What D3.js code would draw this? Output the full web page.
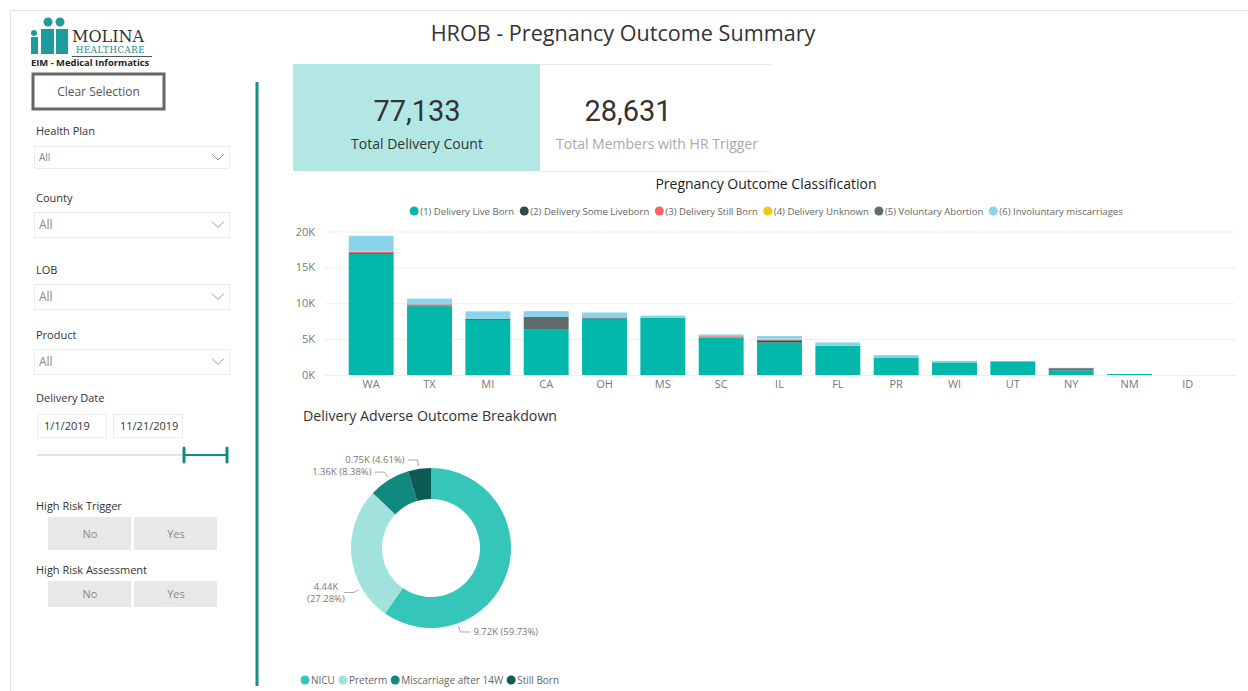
<!DOCTYPE html>
<html>
<head>
<meta charset="utf-8">
<script src="https://cdn.jsdelivr.net/npm/d3@7"></script>
<style>
  body { margin: 0; background: #fff; font-family: "Open Sans", "Noto Sans", sans-serif; }
  svg text { font-family: "Open Sans", "Noto Sans", sans-serif; }
</style>
</head>
<body>
<div id="chart"></div>
<script>
// Bar chart data (deliveries by state)
const states = ["WA", "TX", "MI", "CA", "OH", "MS", "SC", "IL", "FL", "PR", "WI", "UT", "NY", "NM", "ID"];
const seriesNames = ["(1) Delivery Live Born", "(2) Delivery Some Liveborn", "(3) Delivery Still Born",
                     "(4) Delivery Unknown", "(5) Voluntary Abortion", "(6) Involuntary miscarriages"];
const liveBorn      = [16900, 9600, 7700, 6400, 7800, 8000, 5200, 4550, 4070, 2450, 1760, 1900, 650, 140, 0];
const someLiveborn  = [110, 0, 120, 0, 110, 0, 0, 280, 0, 0, 0, 0, 0, 0, 0];
const stillBorn     = [150, 250, 0, 0, 0, 0, 200, 80, 0, 0, 0, 0, 0, 0, 0];
const unknown       = [120, 0, 0, 0, 0, 0, 0, 150, 0, 0, 0, 0, 0, 0, 0];
const volAbortion   = [20, 0, 0, 1700, 0, 0, 0, 0, 0, 0, 0, 0, 300, 0, 0];
const involMisc     = [2100, 800, 1050, 800, 800, 280, 250, 370, 470, 330, 220, 40, 50, 0, 0];
const yTicks = [0, 5000, 10000, 15000, 20000];

// Donut data
const outcomeNames = ["NICU", "Preterm", "Miscarriage after 14W", "Still Born"];
const outcomeValues = [9720, 4440, 1360, 750];
const outcomeLabels = [["9.72K (59.73%)"], ["4.44K", "(27.28%)"], ["1.36K (8.38%)"], ["0.75K (4.61%)"]];

// KPI cards
const kpiValues = ["77,133", "28,631"];
const kpiLabels = ["Total Delivery Count", "Total Members with HR Trigger"];

const barColors = ["#01B8AA", "#374649", "#FD625E", "#F2C80F", "#5F6B6D", "#8AD4EB"];
const donutColors = ["#36C5B9", "#A1E3DC", "#11897F", "#0B5C55"];

const W = 1248, H = 691;
const svg = d3.select("#chart").append("svg").attr("width", W).attr("height", H);

// page frame
svg.append("line").attr("x1", 10).attr("x2", W).attr("y1", 10.5).attr("y2", 10.5).attr("stroke", "#e2e0f3");
svg.append("line").attr("x1", 10.5).attr("x2", 10.5).attr("y1", 10).attr("y2", H).attr("stroke", "#e2e0f3");

// ---------- Logo ----------
const logo = svg.append("g");
const teal = "#1E9C9C";
logo.append("circle").attr("cx", 34).attr("cy", 33).attr("r", 3).attr("fill", teal);
logo.append("circle").attr("cx", 48).attr("cy", 22).attr("r", 4.5).attr("fill", teal);
logo.append("circle").attr("cx", 60).attr("cy", 22).attr("r", 4.5).attr("fill", teal);
logo.append("rect").attr("x", 31).attr("y", 37).attr("width", 7).attr("height", 17).attr("fill", teal);
logo.append("rect").attr("x", 41).attr("y", 29).attr("width", 13).attr("height", 25).attr("fill", teal);
logo.append("rect").attr("x", 56).attr("y", 29).attr("width", 12).attr("height", 25).attr("fill", teal);
logo.append("text").attr("x", 72).attr("y", 42).style("font-family", "'DejaVu Serif', serif")
  .style("font-size", "16px").attr("fill", "#333").text("MOLINA");
logo.append("text").attr("x", 76).attr("y", 53).style("font-family", "'DejaVu Serif', serif")
  .style("font-size", "8.5px").attr("fill", "#1E8585").style("letter-spacing", "0.6px").text("HEALTHCARE");
logo.append("line").attr("x1", 72).attr("x2", 152).attr("y1", 56.5).attr("y2", 56.5).attr("stroke", "#555");
logo.append("text").attr("x", 31).attr("y", 66).style("font-size", "9.4px").style("font-weight", "bold")
  .attr("fill", "#222").text("EIM - Medical Informatics");

// ---------- Left slicer panel ----------
const panel = svg.append("g");
panel.append("rect").attr("x", 33).attr("y", 74).attr("width", 131).attr("height", 35)
  .attr("fill", "#fff").attr("stroke", "#666").attr("stroke-width", 3);
panel.append("text").attr("x", 98.5).attr("y", 96).attr("text-anchor", "middle")
  .style("font-size", "12px").attr("fill", "#555").text("Clear Selection");

const dropdowns = [
  { label: "Health Plan", y: 131, boxY: 146, boxH: 22, fs: 10 },
  { label: "County", y: 198, boxY: 212, boxH: 25, fs: 12 },
  { label: "LOB", y: 270, boxY: 284, boxH: 25, fs: 12 },
  { label: "Product", y: 335, boxY: 349, boxH: 25, fs: 12 }
];
dropdowns.forEach(d => {
  panel.append("text").attr("x", 36).attr("y", d.y + 4).style("font-size", "11px").attr("fill", "#333").text(d.label);
  panel.append("rect").attr("x", 34.5).attr("y", d.boxY + 0.5).attr("width", 195).attr("height", d.boxH)
    .attr("fill", "#fff").attr("stroke", "#ececec");
  panel.append("text").attr("x", 39).attr("y", d.boxY + d.boxH / 2 + d.fs * 0.36).style("font-size", d.fs + "px")
    .attr("fill", "#888").text("All");
  const cx = 218, cy = d.boxY + d.boxH / 2;
  panel.append("path").attr("d", `M${cx - 6},${cy - 3} L${cx},${cy + 3} L${cx + 6},${cy - 3}`)
    .attr("fill", "none").attr("stroke", "#999").attr("stroke-width", 1);
});

panel.append("text").attr("x", 36).attr("y", 402).style("font-size", "11px").attr("fill", "#333").text("Delivery Date");
[[37, "1/1/2019"], [113, "11/21/2019"]].forEach(([x, t]) => {
  panel.append("rect").attr("x", x + 0.5).attr("y", 414.5).attr("width", 69).attr("height", 23)
    .attr("fill", "#fff").attr("stroke", "#ececec");
  panel.append("text").attr("x", x + 7).attr("y", 430).style("font-size", "11px").attr("fill", "#333").text(t);
});
panel.append("line").attr("x1", 37).attr("x2", 184).attr("y1", 455).attr("y2", 455).attr("stroke", "#e3e3e3").attr("stroke-width", 2);
panel.append("line").attr("x1", 184).attr("x2", 227).attr("y1", 455).attr("y2", 455).attr("stroke", "#128A80").attr("stroke-width", 2);
[184, 227].forEach(x => panel.append("line").attr("x1", x).attr("x2", x).attr("y1", 448).attr("y2", 462)
  .attr("stroke", "#128A80").attr("stroke-width", 3).attr("stroke-linecap", "round"));

[["High Risk Trigger", 506, 517, 33], ["High Risk Assessment", 570, 581, 26]].forEach(([lab, ly, by, bh]) => {
  panel.append("text").attr("x", 36).attr("y", ly + 4).style("font-size", "11px").attr("fill", "#333").text(lab);
  [[48, "No"], [134, "Yes"]].forEach(([x, t]) => {
    panel.append("rect").attr("x", x).attr("y", by).attr("width", 83).attr("height", bh).attr("fill", "#e8e8e8");
    panel.append("text").attr("x", x + 42).attr("y", by + bh / 2 + 4).attr("text-anchor", "middle")
      .style("font-size", "11px").attr("fill", "#888").text(t);
  });
});

// teal divider
svg.append("line").attr("x1", 257).attr("x2", 257).attr("y1", 82).attr("y2", 686)
  .attr("stroke", "#1A8C83").attr("stroke-width", 3);

// ---------- Title ----------
svg.append("text").attr("x", 623).attr("y", 41).attr("text-anchor", "middle")
  .style("font-size", "21.6px").attr("fill", "#333").text("HROB - Pregnancy Outcome Summary");

// ---------- KPI cards ----------
svg.append("rect").attr("x", 293).attr("y", 64).attr("width", 247).attr("height", 107).attr("fill", "#B3E7E3");
svg.append("line").attr("x1", 540).attr("x2", 772).attr("y1", 64.5).attr("y2", 64.5).attr("stroke", "#ebebeb");
svg.append("line").attr("x1", 540).attr("x2", 772).attr("y1", 171.5).attr("y2", 171.5).attr("stroke", "#ebebeb");
[[417, "#333"], [657, "#aaa"]].forEach(([cx, lc], i) => {
  svg.append("text").attr("x", i === 0 ? cx : 628).attr("y", 121).attr("text-anchor", "middle")
    .style("font-family", "Roboto, sans-serif").style("font-size", "29px").attr("fill", "#333").text(kpiValues[i]);
  svg.append("text").attr("x", cx).attr("y", 149).attr("text-anchor", "middle")
    .style("font-size", "14px").attr("fill", lc).text(kpiLabels[i]);
});

// ---------- Stacked bar chart ----------
svg.append("text").attr("x", 766).attr("y", 189).attr("text-anchor", "middle")
  .style("font-size", "14px").attr("fill", "#222").text("Pregnancy Outcome Classification");

const x = d3.scaleBand().domain(states).range([342, 1217]).paddingInner(0.23).paddingOuter(0.115);
const y = d3.scaleLinear().domain([0, 20000]).range([375, 231.5]);

const gridG = svg.append("g").attr("transform", "translate(325,0)")
  .call(d3.axisLeft(y).tickValues(yTicks).tickSize(-910).tickFormat(""));
gridG.select(".domain").remove();
gridG.selectAll("line").attr("stroke", "#eeeeee");

const yAxis = svg.append("g").attr("transform", "translate(318,0)")
  .call(d3.axisLeft(y).tickValues(yTicks).tickSize(0).tickFormat(d => (d / 1000) + "K"));
yAxis.select(".domain").remove();
yAxis.selectAll("text").style("font-size", "11px").attr("fill", "#777").style("font-family", "'Open Sans', sans-serif");

const xAxis = svg.append("g").attr("transform", "translate(0,380)")
  .call(d3.axisBottom(x).tickSize(0).tickPadding(0));
xAxis.select(".domain").remove();
xAxis.selectAll("text").attr("dy", "0.75em").style("font-size", "11px").attr("fill", "#777").style("font-family", "'Open Sans', sans-serif");

const rows = states.map((s, i) => ({
  state: s, s0: liveBorn[i], s1: someLiveborn[i], s2: stillBorn[i], s3: unknown[i], s4: volAbortion[i], s5: involMisc[i]
}));
const keys = ["s0", "s1", "s2", "s3", "s4", "s5"];
const stack = d3.stack().keys(keys)(rows);

svg.append("g").selectAll("g").data(stack).join("g")
  .attr("fill", (d, i) => barColors[i])
  .selectAll("rect").data(d => d).join("rect")
  .attr("x", d => x(d.data.state))
  .attr("width", x.bandwidth())
  .attr("y", d => y(d[1]))
  .attr("height", d => Math.max(0, y(d[0]) - y(d[1])));

// legend
const legend = svg.append("g");
let lx = 0;
seriesNames.forEach((name, i) => {
  const g = legend.append("g");
  g.append("circle").attr("cx", 0).attr("cy", 0).attr("r", 4.5).attr("fill", barColors[i]);
  const t = g.append("text").attr("x", 6).attr("y", 3.5).style("font-size", "9.6px").attr("fill", "#666").text(name);
  const w = 6 + t.node().getComputedTextLength();
  g.attr("transform", `translate(${lx},211)`);
  lx += w + 10;
});
const legW = lx - 10;
legend.attr("transform", `translate(${764.5 - legW / 2 + 4},0)`);

// ---------- Donut ----------
svg.append("text").attr("x", 303).attr("y", 421).style("font-size", "14.2px").attr("fill", "#333")
  .text("Delivery Adverse Outcome Breakdown");

const cx = 431, cy = 548, rOuter = 80, rInner = 49;
const pie = d3.pie().sort(null).value(d => d);
const arcs = pie(outcomeValues);
const arc = d3.arc().innerRadius(rInner).outerRadius(rOuter);
const donut = svg.append("g").attr("transform", `translate(${cx},${cy})`);
donut.selectAll("path").data(arcs).join("path")
  .attr("d", arc).attr("fill", (d, i) => donutColors[i]);

// leader anchor angles (degrees, clockwise from top) as Power BI laid them out
const leaderAngles = [160.7, 240, 328.5, 351.3];
const pt = (deg, r) => {
  const a = deg * Math.PI / 180;
  return [Math.sin(a) * r, -Math.cos(a) * r];
};
arcs.forEach((d, i) => {
  const deg = leaderAngles[i];
  const p1 = pt(deg, rOuter + 3);
  const p2 = pt(deg, rOuter + 9);
  const right = deg < 180;
  const p3 = [p2[0] + (right ? 10 : -10), p2[1]];
  donut.append("polyline").attr("points", [p1, p2, p3].map(p => p.join(",")).join(" "))
    .attr("fill", "none").attr("stroke", "#aaa").attr("stroke-width", 1);
  const lines = outcomeLabels[i];
  const t = donut.append("text").attr("y", p3[1]).style("font-size", "9.5px").attr("fill", "#777");
  if (lines.length === 1) {
    t.attr("x", p3[0] + (right ? 3 : -3)).attr("text-anchor", right ? "start" : "end").attr("dy", "0.35em").text(lines[0]);
  } else {
    lines.forEach((l, j) => {
      t.append("tspan").attr("x", p3[0] - 18).attr("text-anchor", "middle")
        .attr("dy", j === 0 ? "-0.25em" : "1.3em").text(l);
    });
  }
});

// donut legend
const dleg = svg.append("g").attr("transform", "translate(305,680)");
let dx = 0;
outcomeNames.forEach((n, i) => {
  const g = dleg.append("g").attr("transform", `translate(${dx},0)`);
  g.append("circle").attr("r", 4.5).attr("fill", donutColors[i]);
  const t = g.append("text").attr("x", 6).attr("y", 3.5).style("font-size", "10px").attr("fill", "#666").text(n);
  dx += 6 + t.node().getComputedTextLength() + 8;
});
</script>
</body>
</html>
